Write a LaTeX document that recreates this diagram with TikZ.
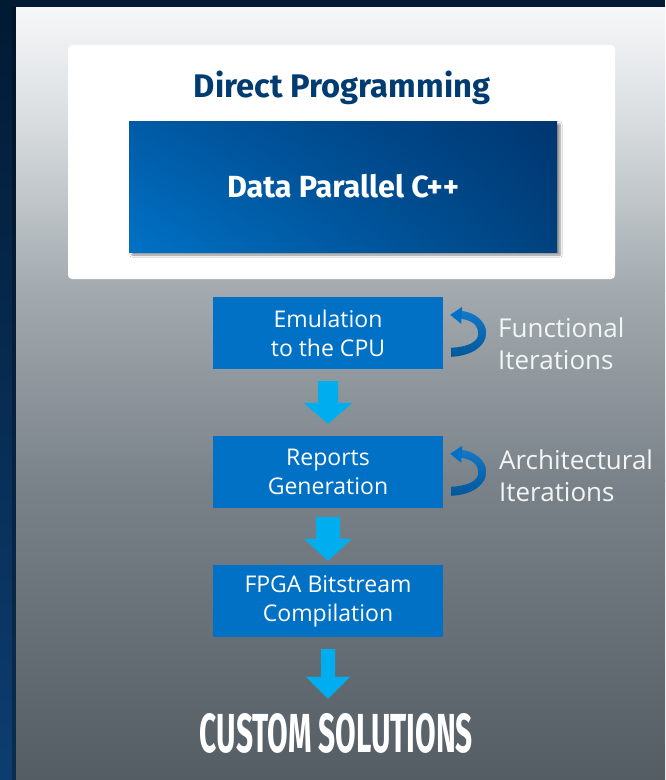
\documentclass[tikz,border=0pt]{standalone}
\usepackage{fontspec}
\setmainfont{Open Sans}
\newfontfamily\headfont{Fira Sans}
\usetikzlibrary{calc,shadows.blur,shadings}

\definecolor{navy}{HTML}{021A33}
\definecolor{stripbot}{HTML}{0D3D70}
\definecolor{bg1}{HTML}{F6F7F8}
\definecolor{bg2}{HTML}{D9DDE0}
\definecolor{bg3}{HTML}{A2AAAF}
\definecolor{bg4}{HTML}{7A8389}
\definecolor{bg5}{HTML}{545D64}
\definecolor{titleblue}{HTML}{003C71}
\definecolor{boxblue}{HTML}{0071C5}
\definecolor{arrowc}{HTML}{00AEEF}
\definecolor{ribtop}{HTML}{1479C8}
\definecolor{ribbot}{HTML}{00579A}
\definecolor{labelc}{HTML}{F3F5F6}
\definecolor{dpcll}{HTML}{0072C6}
\definecolor{dpcul}{HTML}{005BA6}
\definecolor{dpclr}{HTML}{00427F}
\definecolor{dpcur}{HTML}{003670}

\newcommand\blockdown[7]{%
  \fill[arrowc] ($(#1.south)+(-#3,#5)$) -- ($(#1.south)+(#3,#5)$)
    -- ($(#1.south |- #2.north)+(#3,-#7-#6)$)
    -- ($(#1.south |- #2.north)+(#4,-#7-#6)$)
    -- ($(#1.south |- #2.north)+(0,-#7)$)
    -- ($(#1.south |- #2.north)+(-#4,-#7-#6)$)
    -- ($(#1.south |- #2.north)+(-#3,-#7-#6)$)
    -- cycle;}

\tikzset{
  stepbox/.style={fill=boxblue, text=white, minimum width=230pt, minimum height=72pt,
    inner sep=0pt, align=center, font=\fontsize{23}{29}\selectfont},
  iterlabel/.style={text=labelc, inner sep=0pt, align=left, anchor=west,
    font=\fontsize{26}{32}\selectfont},
  iterarrow/.pic={
    \path[top color=ribtop, bottom color=ribbot]
      (20,11) .. controls (35,12) and (46,22) .. (46,33)
      .. controls (46,46) and (32,56) .. (11,57) -- (11,48)
      .. controls (28,47) and (38,42) .. (38,34)
      .. controls (38,25) and (31,20) .. (20,19) -- cycle;
    \fill[boxblue] (10,15) -- (22,7) -- (21,24) -- cycle;
  }
}

\begin{document}
\begin{tikzpicture}[x=1pt,y=-1pt]
\useasboundingbox (0,0) rectangle (665,780);
% frame
\fill[navy] (0,0) rectangle (665,780);
\path[top color=navy, bottom color=stripbot] (0,0) rectangle (16,780);
\fill[black, opacity=0.25] (12,7) rectangle (16,780);
% panel gradient
\path[top color=bg1, bottom color=bg2] (16,7) rectangle (665,121);
\path[top color=bg2, bottom color=bg3] (16,120) rectangle (665,291);
\path[top color=bg3, bottom color=bg4] (16,290) rectangle (665,481);
\path[top color=bg4, bottom color=bg5] (16,480) rectangle (665,780);

% white box
\node[fill=white, rounded corners=4pt, minimum width=547pt, minimum height=234pt, inner sep=0pt]
  (dpbox) at (341.5,162) {};
\node[anchor=base, inner sep=0pt, text=titleblue, font=\headfont\bfseries\fontsize{32.7}{38}\selectfont]
  (dptitle) at (342,97.3) {Direct Programming};
\node[minimum width=428pt, minimum height=131pt, inner sep=0pt,
  lower left=dpcll, upper left=dpcul, lower right=dpclr, upper right=dpcur,
  blur shadow={shadow xshift=3pt, shadow yshift=-3pt, shadow blur steps=6, shadow opacity=45},
  text=white, font=\headfont\bfseries\fontsize{30.6}{36}\selectfont]
  (dpc) at (343,186.5) {Data Parallel C++};

% steps
\node[stepbox] (emu) at (328,333) {Emulation\\to the CPU};
\node[stepbox] (rep) at (328,472) {Reports\\Generation};
\node[stepbox] (fpga) at (328,601) {FPGA Bitstream\\Compilation};
\node[anchor=base, inner sep=0pt, text=white] (cs) at (336.5,752)
  {\resizebox{273pt}{39pt}{\headfont\bfseries CUSTOM SOLUTIONS}};

% down arrows
\blockdown{emu}{rep}{10}{24.5}{12}{21}{12}
\blockdown{rep}{fpga}{12}{24}{9}{22}{4}
\blockdown{fpga}{cs}{7}{22}{12}{22}{14}

% iteration arrows and labels
\pic at ($(emu.north east)+(-3,3)$) {iterarrow};
\pic at ($(rep.north east)+(-3,3)$) {iterarrow};
\node[iterlabel] (fi) at (498,343.5) {Functional\\Iterations};
\node[iterlabel] (ai) at (499,476) {Architectural\\Iterations};
\end{tikzpicture}
\end{document}
